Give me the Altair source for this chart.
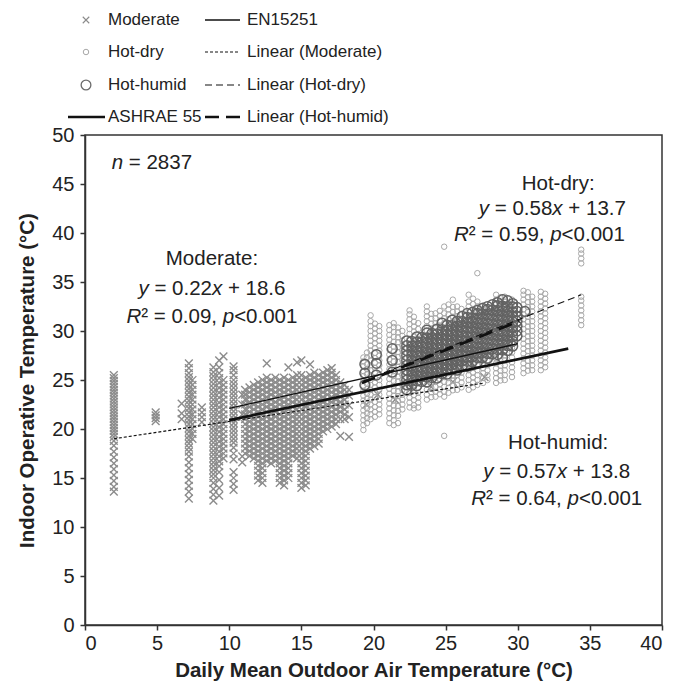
import altair as alt
import pandas as pd

# ---------------- data ----------------
# Moderate climate (x marks): one entry per column of points
mod_x = [2.0, 4.9, 6.7, 7.2, 7.45, 8.1, 8.9, 9.3, 9.6, 10.3, 10.9,
         11.1, 11.4, 11.7, 12.0, 12.3, 12.6, 12.9, 13.2, 13.5, 13.8, 14.1, 14.4,
         14.7, 15.0, 15.3, 15.6, 15.9, 16.2, 16.5, 16.8, 17.1, 17.4, 17.7, 18.0, 18.3,
         19.5, 20.3, 21.5, 22.5, 24.0, 25.5, 27.7]
mod_y = [
    [13.6, 14.1, 14.7, 15.3, 15.9, 16.5, 17.1, 17.7, 18.3, 18.8, 19.2, 19.5, 19.8, 20.1, 20.4, 20.7, 21.0, 21.3, 21.6, 21.9, 22.2, 22.5, 22.8, 23.1, 23.4, 23.7, 24.0, 24.3, 24.6, 24.9, 25.2, 25.5],
    [20.8, 21.1, 21.4, 21.7],
    [21.0, 21.6, 22.6],
    [12.9, 13.6, 14.2, 14.8, 15.4, 16.0, 16.6, 17.2, 17.7, 18.1, 18.5, 18.9, 19.3, 19.7, 20.1, 20.5, 20.9, 21.3, 21.7, 22.1, 22.5, 22.9, 23.3, 23.7, 24.1, 24.5, 24.9, 25.3, 25.7, 26.2, 26.7],
    [19.0, 19.5, 20.0, 20.5, 21.0, 21.5, 22.0, 22.5, 23.0, 23.5, 24.0, 24.5, 25.0],
    [20.7, 21.2, 21.7, 22.2],
    [12.7, 13.3, 13.9, 14.5, 15.0, 15.4, 15.8, 16.2, 16.6, 17.0, 17.4, 17.8, 18.2, 18.6, 19.0, 19.4, 19.8, 20.2, 20.6, 21.0, 21.4, 21.8, 22.2, 22.6, 23.0, 23.4, 23.8, 24.2, 24.6, 25.0, 25.4, 25.8, 26.3],
    [13.2, 14.0, 14.8, 15.6, 16.2, 16.7, 17.2, 17.7, 18.2, 18.7, 19.2, 19.7, 20.2, 20.7, 21.2, 21.7, 22.2, 22.7, 23.2, 23.7, 24.2, 24.7, 25.2, 25.7, 26.3, 27.0],
    [17.0, 17.5, 18.0, 18.5, 19.0, 19.5, 20.0, 20.5, 21.0, 21.5, 22.0, 22.5, 23.0, 23.5, 24.0, 24.5, 25.0, 27.4],
    [13.8, 14.4, 15.0, 15.6, 16.9, 17.5, 18.1, 18.6, 19.0, 19.4, 19.8, 20.2, 20.6, 21.0, 21.4, 21.8, 22.2, 22.6, 23.0, 23.4, 23.8, 24.2, 24.6, 25.0, 25.5, 26.0, 26.4],
    [16.6, 17.2, 21.5, 22.5, 23.5],
    [17.5, 18.0, 18.5, 19.0, 19.5, 20.0, 20.5, 21.0, 21.5, 22.0, 22.5, 23.0, 23.5, 24.0],
    [17.25, 17.75, 18.25, 18.75, 19.25, 19.75, 20.25, 20.75, 21.25, 21.75, 22.25, 22.75, 23.25, 23.75, 24.25],
    [17.0, 17.5, 18.0, 18.5, 19.0, 19.5, 20.0, 20.5, 21.0, 21.5, 22.0, 22.5, 23.0, 23.5, 24.0, 24.5],
    [14.75, 15.25, 15.75, 16.25, 16.75, 17.25, 17.75, 18.25, 18.75, 19.25, 19.75, 20.25, 20.75, 21.25, 21.75, 22.25, 22.75, 23.25, 23.75, 24.25, 24.75],
    [14.5, 15.0, 15.5, 16.0, 16.5, 17.0, 17.5, 18.0, 18.5, 19.0, 19.5, 20.0, 20.5, 21.0, 21.5, 22.0, 22.5, 23.0, 23.5, 24.0, 24.5, 25.0],
    [16.75, 17.25, 17.75, 18.25, 18.75, 19.25, 19.75, 20.25, 20.75, 21.25, 21.75, 22.25, 22.75, 23.25, 23.75, 24.25, 24.75, 25.25, 26.7],
    [16.5, 17.0, 17.5, 18.0, 18.5, 19.0, 19.5, 20.0, 20.5, 21.0, 21.5, 22.0, 22.5, 23.0, 23.5, 24.0, 24.5, 25.0],
    [16.75, 17.25, 17.75, 18.25, 18.75, 19.25, 19.75, 20.25, 20.75, 21.25, 21.75, 22.25, 22.75, 23.25, 23.75, 24.25, 24.75, 25.25],
    [14.5, 15.0, 15.5, 16.0, 16.5, 17.0, 17.5, 18.0, 18.5, 19.0, 19.5, 20.0, 20.5, 21.0, 21.5, 22.0, 22.5, 23.0, 23.5, 24.0, 24.5, 25.0],
    [14.25, 14.75, 15.25, 15.75, 16.25, 16.75, 17.25, 17.75, 18.25, 18.75, 19.25, 19.75, 20.25, 20.75, 21.25, 21.75, 22.25, 22.75, 23.25, 23.75, 24.25, 24.75, 25.25],
    [15.0, 15.5, 16.0, 16.5, 17.0, 17.5, 18.0, 18.5, 19.0, 19.5, 20.0, 20.5, 21.0, 21.5, 22.0, 22.5, 23.0, 23.5, 24.0, 24.5, 25.0, 26.3],
    [17.25, 17.75, 18.25, 18.75, 19.25, 19.75, 20.25, 20.75, 21.25, 21.75, 22.25, 22.75, 23.25, 23.75, 24.25, 24.75, 25.25],
    [17.0, 17.5, 18.0, 18.5, 19.0, 19.5, 20.0, 20.5, 21.0, 21.5, 22.0, 22.5, 23.0, 23.5, 24.0, 24.5, 25.0, 25.5, 26.8],
    [14.0, 14.5, 15.0, 15.5, 16.0, 16.5, 17.0, 17.5, 18.0, 18.5, 19.0, 19.5, 20.0, 20.5, 21.0, 21.5, 22.0, 22.5, 23.0, 23.5, 24.0, 24.5, 25.0, 25.5, 27.0],
    [14.25, 14.75, 15.25, 15.75, 16.25, 16.75, 17.25, 17.75, 18.25, 18.75, 19.25, 19.75, 20.25, 20.75, 21.25, 21.75, 22.25, 22.75, 23.25, 23.75, 24.25, 24.75, 25.25],
    [18.0, 18.5, 19.0, 19.5, 20.0, 20.5, 21.0, 21.5, 22.0, 22.5, 23.0, 23.5, 24.0, 24.5, 25.0, 25.5, 26.6],
    [18.25, 18.75, 19.25, 19.75, 20.25, 20.75, 21.25, 21.75, 22.25, 22.75, 23.25, 23.75, 24.25, 24.75, 25.25, 25.75],
    [18.5, 19.0, 19.5, 20.0, 20.5, 21.0, 21.5, 22.0, 22.5, 23.0, 23.5, 24.0, 24.5, 25.0, 25.5],
    [19.75, 20.25, 20.75, 21.25, 21.75, 22.25, 22.75, 23.25, 23.75, 24.25, 24.75, 25.25, 25.75],
    [20.0, 20.5, 21.0, 21.5, 22.0, 22.5, 23.0, 23.5, 24.0, 24.5, 25.0, 25.5, 26.0],
    [20.25, 20.75, 21.25, 21.75, 22.25, 22.75, 23.25, 23.75, 24.25, 24.75, 25.25, 25.75, 26.2],
    [20.5, 21.0, 21.5, 22.0, 22.5, 23.0, 23.5, 24.0, 24.5, 25.0, 25.5],
    [19.3, 21.0, 21.75, 22.25, 22.75, 23.25, 23.75, 24.25, 24.75],
    [21.0, 21.5, 22.0, 22.5, 23.0, 23.5, 24.0, 24.5],
    [19.2, 21.2, 22.4, 23.4, 24.0],
    [22.5], [23.5], [23.0], [24.0], [24.3], [24.8], [25.3],
]

# Hot-dry climate (small light circles)
hd_x = [19.3, 19.55, 19.8, 20.1, 20.4, 21.1, 21.4, 21.7, 22.0, 22.5, 22.8, 23.1,
        23.7, 24.0, 24.3, 24.6, 24.9, 25.2, 25.5, 25.8, 26.1, 26.6, 26.9, 27.2,
        27.6, 27.9, 28.5, 28.8, 29.1, 29.6, 30.4, 30.7, 31.0, 31.6, 31.9, 34.4]
hd_y = [
    [19.9, 20.4, 20.9, 21.4, 21.9, 22.4, 22.9, 23.4, 23.9, 24.4, 24.9, 25.4, 25.9, 26.4, 26.9, 27.3],
    [20.6, 21.1, 21.6, 22.1, 22.6, 23.1, 23.6, 24.1, 24.6, 25.1, 25.6, 26.1, 26.6, 27.3, 27.8],
    [21.0, 21.5, 22.0, 22.5, 23.0, 23.5, 24.0, 24.5, 25.0, 25.5, 26.0, 26.5, 27.0, 27.5, 28.0, 28.5, 29.0, 29.5, 30.0, 30.5, 31.0, 31.6],
    [21.25, 21.75, 22.25, 22.75, 23.25, 23.75, 24.25, 24.75, 25.25, 25.75, 26.25, 26.75, 27.25, 27.75, 28.25, 28.75, 29.25, 29.75, 30.25, 30.75],
    [21.5, 22.0, 22.5, 23.0, 23.5, 24.0, 24.5, 25.0, 25.5, 26.0, 26.5, 27.0, 27.5, 28.0, 28.5, 29.0, 29.5, 30.0, 30.5],
    [20.6, 21.1, 21.6, 22.1, 22.6, 23.1, 23.6, 24.1, 24.6, 25.1, 25.6, 26.1, 26.6, 27.1, 27.6, 28.1, 28.6, 29.1, 29.6, 30.1, 30.6],
    [20.4, 20.9, 21.4, 21.9, 22.4, 22.9, 23.4, 23.9, 24.4, 24.9, 25.4, 25.9, 26.4, 26.9, 27.4, 27.9, 28.4, 28.9, 29.4, 29.9, 30.4, 30.8],
    [20.6, 21.35, 21.85, 22.35, 22.85, 23.35, 23.85, 24.35, 24.85, 25.35, 25.85, 26.35, 26.85, 27.35, 27.85, 28.35, 28.85, 29.35, 29.85, 30.35],
    [22.0, 22.5, 23.0, 23.5, 24.0, 24.5, 25.0, 25.5, 26.0, 26.5, 27.0, 27.5, 28.0, 28.5, 29.0, 29.5, 30.0],
    [22.2, 22.7, 23.2, 23.7, 24.2, 24.7, 25.2, 25.7, 26.2, 26.7, 27.2, 27.7, 28.2, 28.7, 29.2, 29.7, 30.2, 30.7, 31.2, 31.7, 32.1],
    [22.1, 22.45, 22.95, 23.45, 23.95, 24.45, 24.95, 25.45, 25.95, 26.45, 26.95, 27.45, 27.95, 28.45, 28.95, 29.45, 29.95, 30.45, 30.95, 31.45],
    [22.2, 22.7, 23.2, 23.7, 24.2, 24.7, 25.2, 25.7, 26.2, 26.7, 27.2, 27.7, 28.2, 28.7, 29.2, 29.7, 30.2, 30.8],
    [23.0, 23.5, 24.0, 24.5, 25.0, 25.5, 26.0, 26.5, 27.0, 27.5, 28.0, 28.5, 29.0, 29.5, 30.0, 30.5, 31.0, 31.5, 32.0, 32.5],
    [23.25, 23.75, 24.25, 24.75, 25.25, 25.75, 26.25, 26.75, 27.25, 27.75, 28.25, 28.75, 29.25, 29.75, 30.25, 30.75, 31.25, 31.75],
    [23.3, 23.8, 24.3, 24.8, 25.3, 25.8, 26.3, 26.8, 27.3, 27.8, 28.3, 28.8, 29.3, 29.8, 30.3, 30.8, 31.3, 31.8],
    [23.55, 24.05, 24.55, 25.05, 25.55, 26.05, 26.55, 27.05, 27.55, 28.05, 28.55, 29.05, 29.55, 30.05, 30.55, 31.05, 31.55, 32.05],
    [19.3, 23.3, 23.8, 24.3, 24.8, 25.3, 25.8, 26.3, 26.8, 27.3, 27.8, 28.3, 28.8, 29.3, 29.8, 30.3, 30.8, 31.3, 31.8, 32.5, 38.6],
    [23.7, 24.2, 24.7, 25.2, 25.7, 26.2, 26.7, 27.2, 27.7, 28.2, 28.7, 29.2, 29.7, 30.2, 30.7, 31.2, 31.7, 32.2, 32.7],
    [23.95, 24.45, 24.95, 25.45, 25.95, 26.45, 26.95, 27.45, 27.95, 28.45, 28.95, 29.45, 29.95, 30.45, 30.95, 31.45, 31.95, 32.45, 33.2],
    [24.0, 24.5, 25.0, 25.5, 26.0, 26.5, 27.0, 27.5, 28.0, 28.5, 29.0, 29.5, 30.0, 30.5, 31.0, 31.5, 32.0, 32.5],
    [24.25, 24.75, 25.25, 25.75, 26.25, 26.75, 27.25, 27.75, 28.25, 28.75, 29.25, 29.75, 30.25, 30.75, 31.25, 31.75, 32.25],
    [24.0, 24.5, 25.0, 25.5, 26.0, 26.5, 27.0, 27.5, 28.0, 28.5, 29.0, 29.5, 30.0, 30.5, 31.0, 31.5, 32.0, 32.5, 33.0, 33.7],
    [24.25, 24.75, 25.25, 25.75, 26.25, 26.75, 27.25, 27.75, 28.25, 28.75, 29.25, 29.75, 30.25, 30.75, 31.25, 31.75, 32.25, 32.75, 33.3],
    [24.5, 25.0, 25.5, 26.0, 26.5, 27.0, 27.5, 28.0, 28.5, 29.0, 29.5, 30.0, 30.5, 31.0, 31.5, 32.0, 32.5, 33.0, 35.9],
    [24.7, 25.2, 25.7, 26.2, 26.7, 27.2, 27.7, 28.2, 28.7, 29.2, 29.7, 30.2, 30.7, 31.2, 31.7, 32.2, 32.6],
    [25.0, 25.5, 26.0, 26.5, 27.0, 27.5, 28.0, 28.5, 29.0, 29.5, 30.0, 30.5, 31.0, 31.5, 32.0],
    [24.7, 25.2, 25.7, 26.2, 26.7, 27.2, 27.7, 28.2, 28.7, 29.2, 29.7, 30.2, 30.7, 31.2, 31.7, 32.2, 32.7, 33.2, 33.7],
    [24.95, 25.45, 25.95, 26.45, 26.95, 27.45, 27.95, 28.45, 28.95, 29.45, 29.95, 30.45, 30.95, 31.45, 31.95, 32.45, 32.95, 33.45],
    [25.0, 25.5, 26.0, 26.5, 27.0, 27.5, 28.0, 28.5, 29.0, 29.5, 30.0, 30.5, 31.0, 31.5, 32.0, 32.5, 33.0, 33.5],
    [25.3, 25.8, 26.3, 26.8, 27.3, 27.8, 28.3, 28.8, 29.3, 29.8, 30.3, 30.8, 31.3, 31.8, 32.3, 32.8, 33.2],
    [25.7, 26.2, 26.7, 27.2, 27.7, 28.2, 28.7, 29.2, 29.7, 30.2, 30.7, 31.2, 31.7, 32.2, 32.7, 33.2, 33.7, 34.1],
    [25.95, 26.45, 26.95, 27.45, 27.95, 28.45, 28.95, 29.45, 29.95, 30.45, 30.95, 31.45, 31.95, 32.45, 32.95, 33.45, 33.95],
    [26.0, 26.5, 27.0, 27.5, 28.0, 28.5, 29.0, 29.5, 30.0, 30.5, 31.0, 31.5, 32.0, 32.5, 33.0, 33.5],
    [26.0, 26.5, 27.0, 27.5, 28.0, 28.5, 29.0, 29.5, 30.0, 30.5, 31.0, 31.5, 32.0, 32.5, 33.0, 33.5, 34.0],
    [26.3, 26.8, 27.3, 27.8, 28.3, 28.8, 29.3, 29.8, 30.3, 30.8, 31.3, 31.8, 32.3, 32.8, 33.3, 33.8],
    [30.6, 31.1, 31.6, 32.1, 32.6, 33.1, 33.5, 36.9, 37.4, 37.9, 38.3],
]

# Hot-humid climate (larger dark circles)
hh_x = [19.4, 20.2, 21.3, 22.3, 22.65, 23.0, 23.35, 23.7, 24.05, 24.4, 24.75, 25.1,
        25.45, 25.8, 26.15, 26.5, 26.85, 27.2, 27.55, 27.9, 28.25, 28.6, 28.95,
        29.3, 29.65, 29.95, 30.5]
hh_y = [
    [24.5, 25.7, 26.6],
    [25.5, 26.7, 27.6],
    [25.8, 27.0, 28.2],
    [24.0, 24.5, 25.0, 25.5, 26.0, 26.5, 27.0, 27.5, 28.0, 28.5, 29.0],
    [24.45, 24.95, 25.45, 25.95, 26.45, 26.95, 27.45, 27.95, 28.45, 28.95],
    [24.4, 24.9, 25.4, 25.9, 26.4, 26.9, 27.4, 27.9, 28.4, 28.9, 29.4],
    [24.85, 25.35, 25.85, 26.35, 26.85, 27.35, 27.85, 28.35, 28.85, 29.35],
    [24.8, 25.3, 25.8, 26.3, 26.8, 27.3, 27.8, 28.3, 28.8, 29.3, 29.8, 30.1],
    [25.25, 25.75, 26.25, 26.75, 27.25, 27.75, 28.25, 28.75, 29.25, 29.75],
    [25.2, 25.7, 26.2, 26.7, 27.2, 27.7, 28.2, 28.7, 29.2, 29.7, 30.2],
    [25.65, 26.15, 26.65, 27.15, 27.65, 28.15, 28.65, 29.15, 29.65, 30.15, 30.8],
    [25.6, 26.1, 26.6, 27.1, 27.6, 28.1, 28.6, 29.1, 29.6, 30.1, 30.6],
    [26.05, 26.55, 27.05, 27.55, 28.05, 28.55, 29.05, 29.55, 30.05, 30.55, 31.1],
    [26.0, 26.5, 27.0, 27.5, 28.0, 28.5, 29.0, 29.5, 30.0, 30.5, 31.0],
    [26.45, 26.95, 27.45, 27.95, 28.45, 28.95, 29.45, 29.95, 30.45, 30.95, 31.5],
    [26.4, 26.9, 27.4, 27.9, 28.4, 28.9, 29.4, 29.9, 30.4, 30.9, 31.4, 31.8],
    [26.85, 27.35, 27.85, 28.35, 28.85, 29.35, 29.85, 30.35, 30.85, 31.35, 31.9],
    [26.8, 27.3, 27.8, 28.3, 28.8, 29.3, 29.8, 30.3, 30.8, 31.3, 31.8, 32.1],
    [27.25, 27.75, 28.25, 28.75, 29.25, 29.75, 30.25, 30.75, 31.25, 31.75, 32.3],
    [27.2, 27.7, 28.2, 28.7, 29.2, 29.7, 30.2, 30.7, 31.2, 31.7, 32.2, 32.5],
    [27.65, 28.15, 28.65, 29.15, 29.65, 30.15, 30.65, 31.15, 31.65, 32.15, 32.7],
    [27.6, 28.1, 28.6, 29.1, 29.6, 30.1, 30.6, 31.1, 31.6, 32.1, 32.6, 32.9],
    [27.3, 28.05, 28.55, 29.05, 29.55, 30.05, 30.55, 31.05, 31.55, 32.05, 32.55, 33.2],
    [28.0, 28.5, 29.0, 29.5, 30.0, 30.5, 31.0, 31.5, 32.0, 32.5, 33.1],
    [28.45, 28.95, 29.45, 29.95, 30.45, 30.95, 31.45, 31.95, 32.45, 32.8],
    [29.5, 30.0, 30.5, 31.0, 31.5, 32.0, 32.4],
    [32.0],
]

# Comfort models and regression lines (end points)
line_names = ["EN15251", "ASHRAE 55", "Linear (Moderate)", "Linear (Hot-dry)", "Linear (Hot-humid)"]
line_x0 = [10.0, 10.0, 2.0, 19.3, 19.2]
line_y0 = [22.1, 20.9, 19.0, 24.9, 24.7]
line_x1 = [30.0, 33.5, 27.7, 34.4, 30.1]
line_y1 = [28.7, 28.2, 24.7, 33.7, 31.0]

# Annotation texts: list of (text, italic?) segments per line
ann_lines = [
    [("n", True), (" = 2837", False)],
    [("Moderate:", False)],
    [("y", True), (" = 0.22", False), ("x", True), (" + 18.6", False)],
    [("R", True), ("\u00b2 = 0.09, ", False), ("p", True), ("<0.001", False)],
    [("Hot-dry:", False)],
    [("y", True), (" = 0.58", False), ("x", True), (" + 13.7", False)],
    [("R", True), ("\u00b2 = 0.59, ", False), ("p", True), ("<0.001", False)],
    [("Hot-humid:", False)],
    [("y", True), (" = 0.57", False), ("x", True), (" + 13.8", False)],
    [("R", True), ("\u00b2 = 0.64, ", False), ("p", True), ("<0.001", False)],
]
# anchor of each annotation line in data units (x centre / left for first, y centre)
ann_x = [1.85, 8.8, 8.8, 8.8, 32.8, 32.4, 31.5, 32.8, 32.7, 32.7]
ann_y = [47.1, 37.3, 34.3, 31.4, 45.0, 42.4, 39.8, 18.6, 15.6, 12.9]
ann_align = ["left"] + ["center"] * 9

legend_labels = ["Moderate", "Hot-dry", "Hot-humid", "ASHRAE 55",
                 "EN15251", "Linear (Moderate)", "Linear (Hot-dry)", "Linear (Hot-humid)"]

# ---------------- layout / style ----------------
W, H = 577, 490
PX_PER_X = W / 40.0
FONT = "Liberation Sans"
TXT = "#222222"
X_PATH = "M-1,-1L1,1M1,-1L-1,1"

ARIAL_W = {" ": 278, "=": 584, "+": 584, "<": 584, ".": 278, ",": 278, ":": 278,
           "-": 333, "x": 500, "y": 500, "p": 556, "n": 556, "R": 722, "\u00b2": 333,
           "M": 833, "o": 556, "d": 556, "e": 556, "r": 333, "a": 556, "t": 278,
           "H": 722, "h": 556, "u": 556, "m": 833, "i": 222}
ANN_FS = 20.5


def text_w(s, fs):
    return sum(ARIAL_W.get(c, 556) for c in s) * fs / 1000.0


seg_rows = []
for segs, ax, ay, al in zip(ann_lines, ann_x, ann_y, ann_align):
    total = sum(text_w(t, ANN_FS) for t, _ in segs)
    off = 0.0 if al == "left" else -total / 2.0
    for t, it in segs:
        lead = len(t) - len(t.lstrip(" "))
        shown = t.strip(" ")
        seg_rows.append({"x": ax + (off + text_w(" " * lead, ANN_FS)) / PX_PER_X,
                         "y": ay, "t": shown, "it": it})
        off += text_w(t, ANN_FS)
seg_df = pd.DataFrame(seg_rows)

pts = []
for g, xs, ys in (("Moderate", mod_x, mod_y), ("Hot-dry", hd_x, hd_y), ("Hot-humid", hh_x, hh_y)):
    for xv, col in zip(xs, ys):
        for yv in col:
            pts.append({"x": xv, "y": yv, "g": g})
pts_df = pd.DataFrame(pts)

lines_df = pd.DataFrame({"name": line_names, "x": line_x0, "y": line_y0,
                         "x2": line_x1, "y2": line_y1})

xscale = alt.Scale(domain=[0, 40], nice=False, zero=False)
yscale = alt.Scale(domain=[0, 50], nice=False, zero=False)
xaxis = alt.Axis(title="Daily Mean Outdoor Air Temperature (°C)", values=list(range(0, 41, 5)),
                 labelPadding=3, titlePadding=7)
yaxis = alt.Axis(title="Indoor Operative Temperature (°C)", values=list(range(0, 51, 5)),
                 labelPadding=6, titlePadding=14)

point_styles = {
    "Moderate": dict(shape=X_PATH, size=60, stroke="#8c8c8c", strokeWidth=1.4),
    "Hot-dry": dict(shape="circle", size=30, stroke="#a8a8a8", strokeWidth=1.0),
    "Hot-humid": dict(shape="circle", size=95, stroke="#636363", strokeWidth=1.5),
}
legend_point_styles = {
    "Moderate": dict(shape=X_PATH, size=42, stroke="#8c8c8c", strokeWidth=1.1),
    "Hot-dry": dict(shape="circle", size=30, stroke="#a8a8a8", strokeWidth=1.0),
    "Hot-humid": dict(shape="circle", size=95, stroke="#6b6b6b", strokeWidth=1.3),
}
line_styles = {
    "EN15251": dict(strokeWidth=1.3),
    "ASHRAE 55": dict(strokeWidth=2.7),
    "Linear (Moderate)": dict(strokeWidth=1.1, strokeDash=[3, 2]),
    "Linear (Hot-dry)": dict(strokeWidth=1.1, strokeDash=[7, 4]),
    "Linear (Hot-humid)": dict(strokeWidth=2.7, strokeDash=[14, 7]),
}

layers = []
for g, st in point_styles.items():
    layers.append(
        alt.Chart(pts_df).transform_filter(alt.datum.g == g)
        .mark_point(filled=False, opacity=1, **st)
        .encode(x=alt.X("x:Q", scale=xscale, axis=xaxis),
                y=alt.Y("y:Q", scale=yscale, axis=yaxis))
    )
for nm, st in line_styles.items():
    layers.append(
        alt.Chart(lines_df).transform_filter(alt.datum.name == nm)
        .mark_rule(color="#111111", **st)
        .encode(x=alt.X("x:Q", scale=xscale, axis=xaxis),
                y=alt.Y("y:Q", scale=yscale, axis=yaxis),
                x2="x2:Q", y2="y2:Q")
    )
for it in (False, True):
    layers.append(
        alt.Chart(seg_df).transform_filter(alt.datum.it == it)
        .mark_text(align="left", baseline="middle", font=FONT, fontSize=ANN_FS,
                   fontStyle="italic" if it else "normal", color=TXT)
        .encode(x=alt.X("x:Q", scale=xscale, axis=xaxis),
                y=alt.Y("y:Q", scale=yscale, axis=yaxis),
                text="t:N")
    )

# ---------------- legend (above the plot area, pixel layout) ----------------
leg_rows_py = [-115, -83, -50, -18]
leg_df = pd.DataFrame({"lab": legend_labels,
                       "px": [23, 23, 23, 23, 162, 162, 162, 162],
                       "py": leg_rows_py + leg_rows_py})
layers.append(
    alt.Chart(leg_df).mark_text(align="left", baseline="middle", font=FONT,
                                fontSize=17, color=TXT)
    .encode(x=alt.X("px:Q", scale=None, axis=None),
            y=alt.Y("py:Q", scale=None, axis=None), text="lab:N")
)
for g, py in zip(["Moderate", "Hot-dry", "Hot-humid"], leg_rows_py[:3]):
    layers.append(
        alt.Chart(leg_df).transform_filter(alt.datum.lab == g)
        .mark_point(filled=False, opacity=1, **legend_point_styles[g])
        .encode(x=alt.value(1), y=alt.value(py))
    )
leg_line_pos = {"ASHRAE 55": (-17, 20, -18), "EN15251": (120, 155, -115),
                "Linear (Moderate)": (120, 155, -83), "Linear (Hot-dry)": (120, 155, -50),
                "Linear (Hot-humid)": (120, 155, -18)}
for nm, (a, b, py) in leg_line_pos.items():
    layers.append(
        alt.Chart(leg_df).transform_filter(alt.datum.lab == nm)
        .mark_rule(color="#111111", **line_styles[nm])
        .encode(x=alt.value(a), x2=alt.value(b), y=alt.value(py))
    )

chart = (
    alt.layer(*layers)
    .properties(width=W, height=H,
                padding={"left": 85, "top": 135, "right": 11, "bottom": 60},
                autosize=alt.AutoSizeParams(type="none"),
                background="white")
    .configure_view(stroke="#333333", strokeWidth=1.5)
    .configure_axis(domainColor="#333333", domainWidth=1.5, tickColor="#333333",
                    tickWidth=1.5, tickSize=5, grid=False,
                    labelFont=FONT, labelFontSize=20, labelColor=TXT,
                    titleFont=FONT, titleFontSize=20.5, titleFontWeight="bold",
                    titleColor=TXT)
)

chart.save("out.html", embed_options={"renderer": "svg", "actions": False})
